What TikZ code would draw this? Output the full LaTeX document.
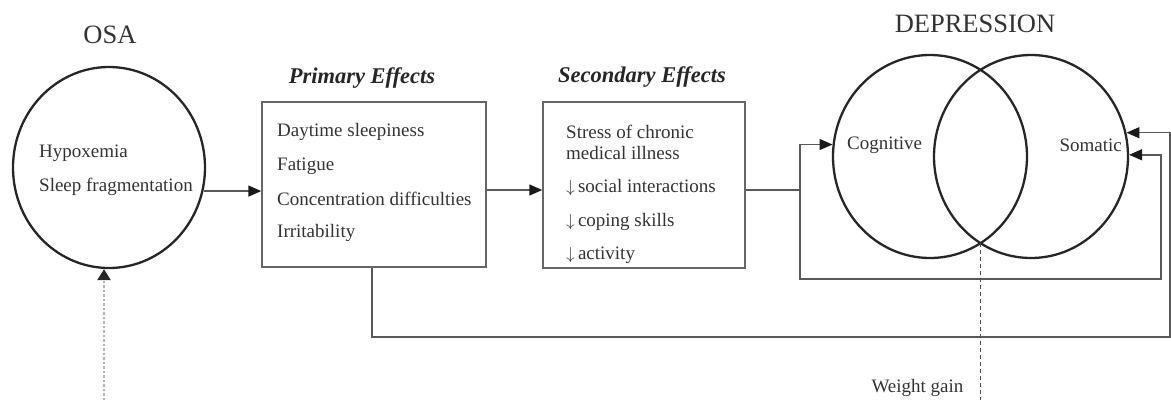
\documentclass[tikz,border=0pt]{standalone}
\usepackage{fontspec}
\setmainfont{Liberation Serif}
\usetikzlibrary{arrows.meta,shapes.geometric,calc}
\begin{document}
\begin{tikzpicture}[x=1pt,y=-1pt,
  ring/.style={draw=black!85,line width=2.3pt,ellipse,minimum width=194pt,minimum height=203pt,inner sep=0pt},
  boxnode/.style={draw=black!60,line width=1.5pt,rectangle,inner sep=0pt},
  body/.style={font=\fontsize{19}{21}\selectfont,text=black!80,inner sep=0pt,anchor=west},
  title/.style={font=\fontsize{26.5}{30}\selectfont,text=black!80,inner sep=0pt},
  head/.style={font=\fontsize{22.5}{26}\selectfont\bfseries\itshape,text=black!85,inner sep=0pt},
  conn/.style={draw=black!65,line width=1.5pt},
  arr/.style={conn,-{Triangle[length=13pt,width=11pt,black!90]}},
  dotarr/.style={draw=black!30,line width=2.4pt,dash pattern=on 2.5pt off 2pt,-{Triangle[length=11pt,width=13pt,black!85]}},
  thindash/.style={draw=black!70,line width=1pt,dash pattern=on 4pt off 3pt},
]
\useasboundingbox[fill=white] (0,0) rectangle (1171,400);

% OSA
\node[title] (osat) at (110,35) {OSA};
\node[ring,minimum width=192pt,minimum height=201pt] (osa) at (109,167.5) {};
\node[body] (hyp) at (39,153) {Hypoxemia};
\node[body] (sf) at (39,187) {Sleep fragmentation};

% Primary effects
\node[head] (primt) at (362,78) {Primary Effects};
\node[boxnode,minimum width=224pt,minimum height=165pt] (prim) at (374,184.5) {};
\node[body] (p1) at (277,132) {Daytime sleepiness};
\node[body] (p2) at (277,166) {Fatigue};
\node[body] (p3) at (277,199) {Concentration difficulties};
\node[body] (p4) at (277,233) {Irritability};

% Secondary effects
\node[head] (sect) at (642,77) {Secondary Effects};
\node[boxnode,minimum width=202pt,minimum height=166pt] (sec) at (644,185) {};
\node[body] (s1) at (566,132) {Stress of chronic};
\node[body] (s1b) at (566,153) {medical illness};
\node[body] (s2) at (566,188) {$\downarrow$\,social interactions};
\node[body] (s3) at (566,222) {$\downarrow$\,coping skills};
\node[body] (s4) at (566,255) {$\downarrow$\,activity};

% Depression
\node[title] (dept) at (975,23.5) {DEPRESSION};
\node[ring] (cog) at (930,156.5) {};
\node[ring] (som) at (1031,156.5) {};
\node[body] (cogt) at (847,145) {Cognitive};
\node[body,anchor=east] (somt) at (1122,145) {Somatic};

% connectors
\draw[arr] (osa.-14) -- (osa.-14 -| prim.west);
\draw[arr] ([yshift=-5.5pt]prim.east) -- ([yshift=-5.5pt]prim.east -| sec.west);

\coordinate (j) at (800,190);
\draw[conn] (j -| sec.east) -- (j);
\draw[arr] (j) |- (cog.173);
\coordinate (c2) at (1161,279);
\draw[arr] (j) |- (c2) |- (som.1);

\coordinate (c1) at (1170,337);
\draw[arr] ([xshift=-2pt]prim.south) |- (c1) |- (som.14);

% dashed lines
\coordinate (b1) at (104,400);
\draw[dotarr] (b1) -- (b1 |- osa.south);
\coordinate (vb) at (980.5,243);
\coordinate (b2) at (980.5,400);
\draw[thindash] (vb) -- (b2);
\node[body,anchor=center] (wg) at (917.5,388) {Weight gain};
\end{tikzpicture}
\end{document}
